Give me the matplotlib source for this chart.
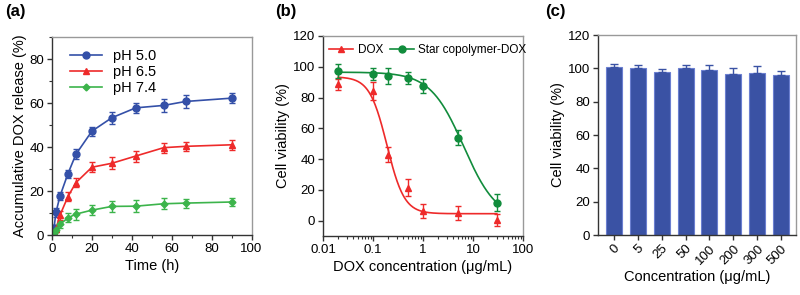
import numpy as np
import matplotlib.pyplot as plt
from matplotlib.ticker import MultipleLocator, LogLocator, NullFormatter

plt.rcParams.update({
    "font.family": ["Liberation Sans", "DejaVu Sans"],
    "font.size": 9,
    "xtick.labelsize": 9.5,
    "ytick.labelsize": 9.5,
    "axes.labelsize": 10.5,
})

# ---------------- data: (a) release ----------------
time_h = [1, 2, 4, 8, 12, 20, 30, 42, 56, 67, 90]
rel_ph50 = [3.2, 10.3, 17.7, 27.9, 36.7, 47.2, 53.3, 57.8, 58.9, 60.7, 62.2]
err_ph50 = [1.5, 2.0, 1.8, 1.8, 2.2, 2.0, 2.8, 2.2, 2.8, 2.8, 2.2]
rel_ph65 = [1.4, 2.7, 9.0, 17.5, 23.8, 30.8, 32.6, 35.9, 39.7, 40.3, 41.0]
err_ph65 = [1.0, 1.2, 2.0, 2.0, 2.0, 2.2, 2.8, 2.5, 2.2, 2.2, 2.2]
rel_ph74 = [0.9, 2.4, 4.8, 7.8, 9.5, 11.3, 13.0, 13.1, 14.2, 14.5, 15.0]
err_ph74 = [0.8, 1.0, 1.5, 2.0, 2.5, 2.2, 2.5, 2.8, 2.5, 2.0, 2.0]

# ---------------- data: (b) cytotoxicity ----------------
dox_conc = [0.02, 0.1, 0.2, 0.5, 1, 5, 30]
via_dox = [88.6, 84.3, 42.8, 21.4, 6.5, 4.8, 0.6]
err_dox = [3.5, 6.0, 5.0, 5.5, 4.5, 4.5, 4.0]
via_star = [97.3, 95.4, 94.0, 92.5, 87.6, 54.0, 11.7]
err_star = [4.5, 4.0, 5.0, 4.0, 4.5, 5.0, 5.5]
# four-parameter logistic fit parameters: top, bottom, IC50, hill
fit_dox = (93.5, 4.5, 0.19, 2.5)
fit_star = (96.5, 0.0, 6.5, 1.3)

# ---------------- data: (c) blank copolymer ----------------
conc_labels = ["0", "5", "25", "50", "100", "200", "300", "500"]
via_blank = [101.0, 100.5, 98.0, 100.0, 99.0, 96.5, 97.5, 96.0]
err_blank = [1.5, 1.5, 1.5, 2.2, 3.0, 3.5, 4.0, 2.2]

BLUE = "#3450a8"
RED = "#ee2a2a"
LGREEN = "#3cb44b"
DGREEN = "#118c3c"
BAR = "#3a52a4"


def logistic(x, top, bottom, ic50, hill):
    return bottom + (top - bottom) / (1 + (x / ic50) ** hill)


def style_axes(ax):
    for s in ("left", "bottom"):
        ax.spines[s].set_color("#333333")
        ax.spines[s].set_linewidth(1.0)
    for s in ("top", "right"):
        ax.spines[s].set_color("#999999")
        ax.spines[s].set_linewidth(1.0)
    ax.tick_params(which="major", length=3.5, width=1.0, color="#333333", pad=2)
    ax.tick_params(which="minor", length=2.0, width=0.8, color="#333333")


W, H = 800, 295
fig = plt.figure(figsize=(W / 100, H / 100), dpi=100)


def add_ax(l, r, t, b):
    return fig.add_axes([l / W, (H - b) / H, (r - l) / W, (b - t) / H])


# ---------------- panel (a) ----------------
ax1 = add_ax(52, 251.5, 37, 235)
series = [
    (rel_ph50, err_ph50, BLUE, "o", 5, "pH 5.0"),
    (rel_ph65, err_ph65, RED, "^", 5, "pH 6.5"),
    (rel_ph74, err_ph74, LGREEN, "D", 3.5, "pH 7.4"),
]
for vals, errs, c, m, ms, lab in series:
    ax1.errorbar(time_h, vals, yerr=errs, color=c, marker=m, ms=ms,
                 lw=1.2, elinewidth=1.0, capsize=2.5, capthick=1.0)
    ax1.plot([], [], color=c, marker=m, ms=ms, lw=1.2, label=lab)
ax1.set_xlim(0, 100)
ax1.set_ylim(0, 90)
ax1.xaxis.set_major_locator(MultipleLocator(20))
ax1.xaxis.set_minor_locator(MultipleLocator(10))
ax1.yaxis.set_major_locator(MultipleLocator(20))
ax1.yaxis.set_minor_locator(MultipleLocator(10))
ax1.set_xlabel("Time (h)", labelpad=3)
ax1.set_ylabel("Accumulative DOX release (%)", labelpad=2)
ax1.legend(loc="upper left", frameon=False, fontsize=10.5,
           handlelength=2.2, labelspacing=0.15, borderaxespad=0.4,
           handletextpad=0.8, bbox_to_anchor=(0.03, 1.0))
style_axes(ax1)

# ---------------- panel (b) ----------------
ax2 = add_ax(323, 523, 36, 236)
xs = np.logspace(np.log10(0.02), np.log10(30), 300)
ax2.plot(xs, logistic(xs, *fit_dox), color=RED, lw=1.2)
ax2.plot(xs, logistic(xs, *fit_star), color=DGREEN, lw=1.2)
ax2.errorbar(dox_conc, via_dox, yerr=err_dox, color=RED, marker="^", ms=4.5,
             ls="none", elinewidth=1.0, capsize=2.5, capthick=1.0)
ax2.errorbar(dox_conc, via_star, yerr=err_star, color=DGREEN, marker="o", ms=5,
             ls="none", elinewidth=1.0, capsize=2.5, capthick=1.0)
ax2.plot([], [], color=RED, marker="^", ms=4.5, lw=1.2, label="DOX")
ax2.plot([], [], color=DGREEN, marker="o", ms=5, lw=1.2, label="Star copolymer-DOX")
ax2.set_xscale("log")
ax2.set_xlim(0.01, 100)
ax2.set_ylim(-10, 120)
ax2.set_xticks([0.01, 0.1, 1, 10, 100])
ax2.set_xticklabels(["0.01", "0.1", "1", "10", "100"])
ax2.xaxis.set_minor_locator(LogLocator(base=10, subs=np.arange(2, 10)))
ax2.xaxis.set_minor_formatter(NullFormatter())
ax2.yaxis.set_major_locator(MultipleLocator(20))
ax2.set_xlabel("DOX concentration (\u03bcg/mL)", labelpad=3)
ax2.set_ylabel("Cell viability (%)", labelpad=2)
ax2.legend(loc="upper left", frameon=False, ncol=2, fontsize=8.5,
           handlelength=2.0, handletextpad=0.4, columnspacing=0.6,
           borderaxespad=0.3, bbox_to_anchor=(-0.01, 1.0))
style_axes(ax2)

# ---------------- panel (c) ----------------
ax3 = add_ax(598, 796, 35, 235)
pos = np.arange(len(conc_labels))
ax3.bar(pos, via_blank, width=0.67, color=BAR, edgecolor="#6b7fd0", lw=0.8,
        yerr=[np.zeros(len(err_blank)), err_blank],
        error_kw=dict(ecolor=BAR, elinewidth=1.0, capsize=3, capthick=1.0))
ax3.set_xlim(-0.66, 7.62)
ax3.set_ylim(0, 120)
ax3.set_xticks(pos)
ax3.set_xticklabels(conc_labels, rotation=45, ha="right", rotation_mode="anchor")
ax3.yaxis.set_major_locator(MultipleLocator(20))
ax3.set_xlabel("Concentration (\u03bcg/mL)", labelpad=2)
ax3.set_ylabel("Cell viability (%)", labelpad=2)
style_axes(ax3)

# panel letters
for x, lab in [(5, "(a)"), (275, "(b)"), (545, "(c)")]:
    fig.text(x / W, 1 - 4 / H, lab, fontsize=12, fontweight="bold",
             ha="left", va="top")

fig.savefig("out.png", dpi=100)
